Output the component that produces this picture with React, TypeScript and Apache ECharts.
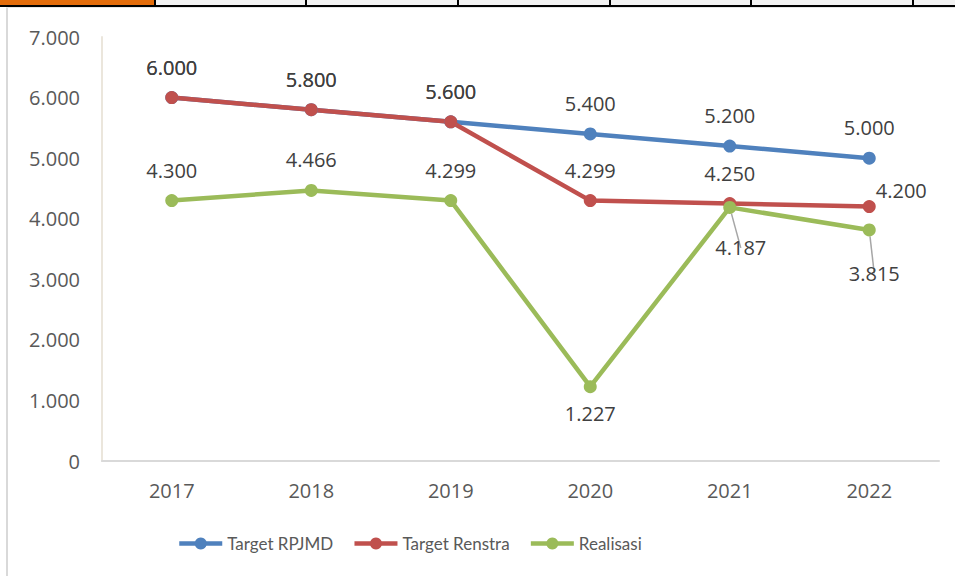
import React, { useEffect, useRef } from "react";
import * as echarts from "echarts";

const years = ["2017", "2018", "2019", "2020", "2021", "2022"];
const targetRPJMD = [6000, 5800, 5600, 5400, 5200, 5000];
const targetRenstra = [6000, 5800, 5600, 4299, 4250, 4200];
const realisasi = [4300, 4466, 4299, 1227, 4187, 3815];
const seriesNames = ["Target RPJMD", "Target Renstra", "Realisasi"];
const yTicks = { min: 0, max: 7000, interval: 1000 };

const fmt = (v: number) => {
  if (v === 0) return "0";
  const s = Math.round(v).toString();
  return s.replace(/\B(?=(\d{3})+(?!\d))/g, ".");
};

const NUM_FONT = "'Open Sans', 'Noto Sans', sans-serif";
const LEG_FONT = "Lato, 'Open Sans', sans-serif";

export default function App() {
  const ref = useRef<HTMLDivElement>(null);
  useEffect(() => {
    if (!ref.current) return;
    const chart = echarts.init(ref.current, undefined, { renderer: "svg" });
    const baseLabel = {
      show: true,
      position: "top",
      distance: 14,
      fontFamily: NUM_FONT,
      fontSize: 20,
      color: "#404040",
      formatter: (p: any) => fmt(p.value),
    };
    const mk = (name: string, vals: number[], color: string, overrides: Record<number, any>) => ({
      name,
      type: "line",
      data: vals.map((v, i) => (overrides[i] ? { value: v, ...overrides[i] } : v)),
      symbol: "circle",
      symbolSize: 13,
      lineStyle: { color, width: 4.5 },
      itemStyle: { color },
      label: baseLabel,
    });
    const leader = { show: true, lineStyle: { color: "#a6a6a6", width: 1.5 } };
    const topStripLines = [155, 306, 458, 610, 751, 913];
    chart.setOption({
      animation: false,
      backgroundColor: "#ffffff",
      grid: { left: 102, right: 16, top: 37, bottom: 115 },
      legend: {
        left: 172,
        top: 530,
        itemWidth: 43,
        itemHeight: 15,
        itemGap: 19,
        lineStyle: { width: 4.5 },
        textStyle: { fontFamily: LEG_FONT, fontSize: 17, color: "#595959" },
        data: seriesNames,
      },
      xAxis: {
        type: "category",
        data: years,
        boundaryGap: true,
        axisLine: { lineStyle: { color: "#d9d9d9", width: 2 } },
        axisTick: { show: false },
        axisLabel: { fontFamily: NUM_FONT, fontSize: 20, color: "#595959", margin: 19 },
      },
      yAxis: {
        type: "value",
        min: yTicks.min,
        max: yTicks.max,
        interval: yTicks.interval,
        axisLine: { show: true, lineStyle: { color: "#ebe6dc", width: 2 } },
        axisTick: { show: false },
        splitLine: { show: false },
        axisLabel: {
          fontFamily: NUM_FONT,
          fontSize: 20,
          color: "#595959",
          margin: 22,
          formatter: (v: number) => fmt(v),
        },
      },
      graphic: [
        { type: "rect", shape: { x: 0, y: 0, width: 955, height: 6 }, style: { fill: "#f2f2f2" }, silent: true },
        { type: "rect", shape: { x: 0, y: 0, width: 155, height: 5 }, style: { fill: "#e36c0a" }, silent: true },
        ...topStripLines.map((x) => ({
          type: "rect",
          shape: { x: x - 1, y: 0, width: 2, height: 6 },
          style: { fill: "#000000" },
          silent: true,
        })),
        { type: "rect", shape: { x: 0, y: 5, width: 955, height: 2 }, style: { fill: "#000000" }, silent: true },
        { type: "rect", shape: { x: 6, y: 7, width: 2, height: 569 }, style: { fill: "#d9d9d9" }, silent: true },
        { type: "rect", shape: { x: 6, y: 7, width: 949, height: 1 }, style: { fill: "#e6e6e6" }, silent: true },
      ],
      series: [
        mk(seriesNames[0], targetRPJMD, "#4f81bd", {}),
        mk(seriesNames[1], targetRenstra, "#c0504d", {
          5: { label: { position: "top", offset: [32, 14] } },
        }),
        mk(seriesNames[2], realisasi, "#9bbb59", {
          3: { label: { position: "bottom", distance: 10 } },
          4: { label: { position: "bottom", distance: 24, offset: [11, 0] }, labelLine: leader },
          5: { label: { position: "bottom", distance: 27, offset: [5, 0] }, labelLine: leader },
        }),
      ],
    });
    return () => chart.dispose();
  }, []);
  return (
    <div
      ref={ref}
      style={{ position: "fixed", left: 0, top: 0, width: 955, height: 576, background: "#fff" }}
    />
  );
}
